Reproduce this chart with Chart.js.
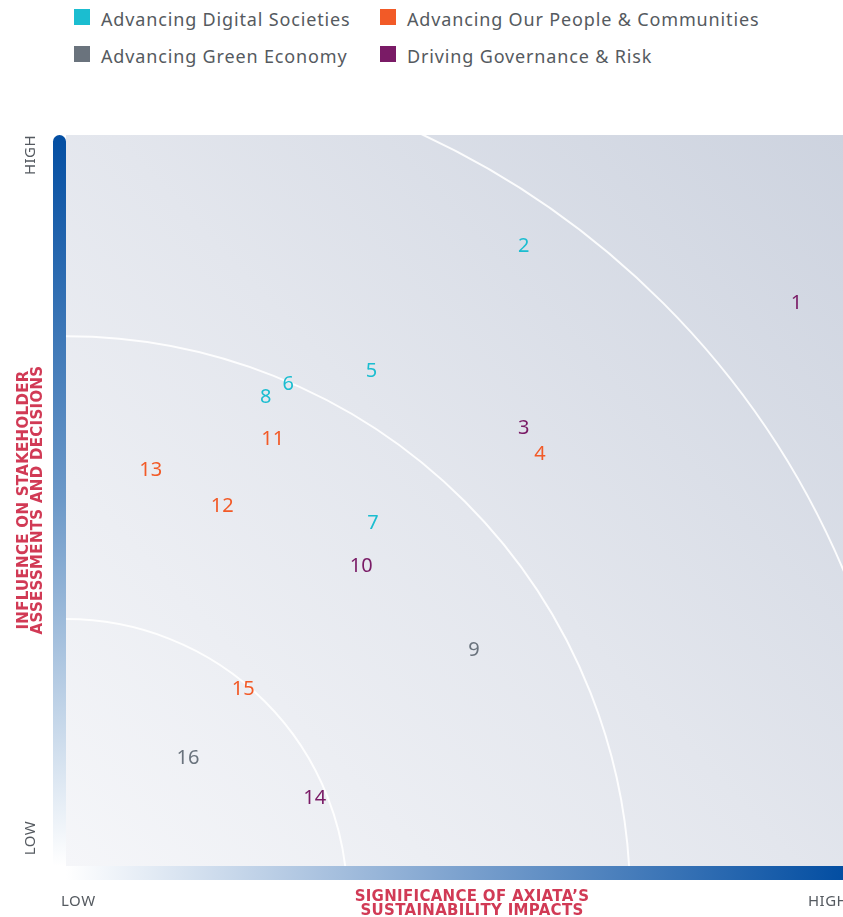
<!DOCTYPE html>
<html>
<head>
<meta charset="utf-8">
<script src="https://cdn.jsdelivr.net/npm/chart.js@4"></script>
<style>
  html, body { margin: 0; padding: 0; background: #fff; }
  body { width: 843px; height: 917px; position: relative; overflow: hidden; font-family: "Noto Sans", sans-serif; }
  #legend { position: absolute; left: 74px; top: 7px; display: grid; grid-template-columns: 306px 400px; row-gap: 13px; }
  .item { display: flex; align-items: center; font-size: 18px; letter-spacing: 0.85px; color: #555a60; height: 24px; white-space: nowrap; }
  .sw { width: 16px; height: 16px; margin-right: 11px; margin-top: -4px; }
  #wrap { position: absolute; left: 0; top: 0; width: 843px; height: 917px; }
</style>
</head>
<body>
<div id="legend"></div>
<div id="wrap"><canvas id="matrix"></canvas></div>
<script>
// categories and colours
const categories = ['Advancing Digital Societies', 'Advancing Our People & Communities', 'Advancing Green Economy', 'Driving Governance & Risk'];
const catColors = ['#1bbdd0', '#f25a27', '#6a737d', '#7a1b66'];
const legendOrder = [0, 1, 2, 3];

// topics: id, significance (x), influence (y), category index
const topicIds = [1, 2, 3, 4, 5, 6, 7, 8, 9, 10, 11, 12, 13, 14, 15, 16];
const significance = [9.40, 5.89, 5.89, 6.10, 3.93, 2.86, 3.95, 2.57, 5.25, 3.80, 2.66, 2.01, 1.09, 3.20, 2.28, 1.57];
const influence = [7.72, 8.50, 6.02, 5.66, 6.80, 6.62, 4.71, 6.44, 2.98, 4.13, 5.86, 4.95, 5.44, 0.96, 2.44, 1.50];
const topicCat = [3, 0, 3, 1, 0, 0, 0, 0, 2, 3, 1, 1, 1, 3, 1, 2];

// background arcs (radius in x units, centre below the origin)
const arcRadii = [3.62, 7.26, 10.87];
const arcCenterY = -0.47;

const axisMin = 0, axisMax = 10;

// legend
const legendEl = document.getElementById('legend');
legendEl.innerHTML = legendOrder.map(i =>
  `<div class="item"><span class="sw" style="background:${catColors[i]}"></span>${categories[i]}</div>`).join('');

const datasets = categories.map((name, c) => ({
  label: name,
  data: topicIds.map((id, i) => topicCat[i] === c ? { x: significance[i], y: influence[i], id } : null).filter(Boolean),
  pointRadius: 0,
  pointHoverRadius: 0,
  color: catColors[c]
}));

const matrixBackground = {
  id: 'matrixBackground',
  beforeDatasetsDraw(chart) {
    const { ctx, chartArea: a, scales: { x, y } } = chart;
    ctx.save();
    // plot gradient
    const g = ctx.createLinearGradient(a.left, a.bottom, a.right, a.top);
    g.addColorStop(0, '#f5f6f9');
    g.addColorStop(0.5, '#e3e6ed');
    g.addColorStop(1, '#cdd3df');
    ctx.fillStyle = g;
    ctx.fillRect(a.left, a.top, a.right - a.left, a.bottom - a.top);

    // arcs
    ctx.beginPath();
    ctx.rect(a.left, a.top, a.right - a.left, a.bottom - a.top);
    ctx.clip();
    const cx = x.getPixelForValue(0);
    const cy = y.getPixelForValue(arcCenterY);
    ctx.strokeStyle = 'rgba(255,255,255,0.9)';
    ctx.lineWidth = 2;
    arcRadii.forEach(r => {
      const rp = x.getPixelForValue(r) - cx;
      ctx.beginPath();
      ctx.arc(cx, cy, rp, 0, Math.PI * 2);
      ctx.stroke();
    });
    ctx.restore();

    ctx.save();
    // left bar
    const barW = 13;
    const lg = ctx.createLinearGradient(0, a.top, 0, a.bottom);
    lg.addColorStop(0, '#034ea2');
    lg.addColorStop(0.5, '#6d99c8');
    lg.addColorStop(1, '#ffffff');
    ctx.fillStyle = lg;
    ctx.beginPath();
    ctx.moveTo(a.left - barW, a.bottom);
    ctx.lineTo(a.left - barW, a.top + barW / 2);
    ctx.arc(a.left - barW / 2, a.top + barW / 2, barW / 2, Math.PI, 0);
    ctx.lineTo(a.left, a.bottom);
    ctx.closePath();
    ctx.fill();
    // bottom bar
    const bg = ctx.createLinearGradient(a.left, 0, a.right, 0);
    bg.addColorStop(0, '#ffffff');
    bg.addColorStop(0.5, '#7ea3cf');
    bg.addColorStop(1, '#034ea2');
    ctx.fillStyle = bg;
    ctx.fillRect(a.left, a.bottom, a.right - a.left, 14);

    // LOW / HIGH labels
    ctx.fillStyle = '#555a60';
    ctx.font = '15px "Noto Sans"';
    ctx.letterSpacing = '0.5px';
    ctx.textBaseline = 'middle';
    ctx.textAlign = 'left';
    ctx.fillText('LOW', a.left - 5, 902);
    ctx.fillText('HIGH', 808, 902);
    ctx.save();
    ctx.translate(31, a.top + 20);
    ctx.rotate(-Math.PI / 2);
    ctx.textAlign = 'center';
    ctx.fillText('HIGH', 0, 0);
    ctx.restore();
    ctx.save();
    ctx.translate(31, a.bottom - 28);
    ctx.rotate(-Math.PI / 2);
    ctx.textAlign = 'center';
    ctx.fillText('LOW', 0, 0);
    ctx.restore();

    // axis titles
    ctx.fillStyle = '#d13a55';
    ctx.font = 'bold 15px "DejaVu Sans"';
    ctx.letterSpacing = '0.3px';
    ctx.textAlign = 'center';
    ctx.fillText('SIGNIFICANCE OF AXIATA\u2019S', 472, 897);
    ctx.fillText('SUSTAINABILITY IMPACTS', 472, 911);
    ctx.save();
    ctx.translate(24, 500);
    ctx.rotate(-Math.PI / 2);
    ctx.fillText('INFLUENCE ON STAKEHOLDER', 0, 0);
    ctx.fillText('ASSESSMENTS AND DECISIONS', 0, 14);
    ctx.restore();
    ctx.restore();
  },
  afterDatasetsDraw(chart) {
    const { ctx } = chart;
    ctx.save();
    ctx.font = '20px "Noto Sans"';
    ctx.textAlign = 'center';
    ctx.textBaseline = 'middle';
    chart.data.datasets.forEach((ds, di) => {
      const meta = chart.getDatasetMeta(di);
      ctx.fillStyle = ds.color;
      meta.data.forEach((pt, i) => {
        ctx.fillText(String(ds.data[i].id), pt.x, pt.y + 2);
      });
    });
    ctx.restore();
  }
};

new Chart(document.getElementById('matrix'), {
  type: 'scatter',
  data: { datasets },
  options: {
    responsive: true,
    maintainAspectRatio: false,
    animation: false,
    layout: { padding: { left: 66, right: 0, top: 135, bottom: 51 } },
    plugins: { legend: { display: false }, tooltip: { enabled: false } },
    scales: {
      x: { min: axisMin, max: axisMax, display: false },
      y: { min: axisMin, max: axisMax, display: false }
    }
  },
  plugins: [matrixBackground]
});
</script>
</body>
</html>
